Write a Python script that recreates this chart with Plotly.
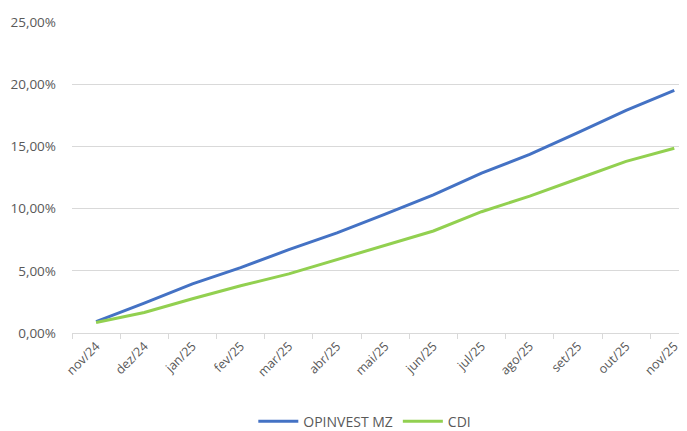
import plotly.graph_objects as go

months = ["nov/24", "dez/24", "jan/25", "fev/25", "mar/25", "abr/25", "mai/25",
          "jun/25", "jul/25", "ago/25", "set/25", "out/25", "nov/25"]
opinvest = [0.92, 2.4, 3.95, 5.25, 6.7, 8.05, 9.55, 11.1, 12.85, 14.35, 16.1, 17.9, 19.5]
cdi = [0.85, 1.65, 2.75, 3.8, 4.75, 5.9, 7.05, 8.2, 9.75, 11.0, 12.4, 13.8, 14.85]

fig = go.Figure()
fig.add_trace(go.Scatter(x=months, y=opinvest, mode="lines", name="OPINVEST MZ",
                         line=dict(color="#4472C4", width=3)))
fig.add_trace(go.Scatter(x=months, y=cdi, mode="lines", name="CDI",
                         line=dict(color="#92D050", width=3)))

font = "Open Sans, Liberation Sans, sans-serif"
fig.update_layout(
    width=687, height=431,
    margin=dict(l=64, r=0, t=14, b=106, autoexpand=False),
    plot_bgcolor="white", paper_bgcolor="white",
    separators=",.",
    font=dict(family=font, size=13, color="#595959"),
    showlegend=True,
    legend=dict(orientation="h", x=0.47, xanchor="center", y=-0.285, yanchor="middle",
                font=dict(size=14, color="#595959"), itemwidth=40, tracegroupgap=0),
    xaxis=dict(type="category", range=[-0.5, 12.43], tickangle=-45, automargin=False,
               ticks="outside", tickson="boundaries", ticklen=5, tickcolor="#d9d9d9",
               showline=True, linecolor="#d9d9d9", linewidth=1, showgrid=False,
               tickfont=dict(size=12.5, color="#595959")),
    yaxis=dict(range=[0, 25], dtick=5, tickformat=".2f", ticksuffix="%", automargin=False,
               showgrid=True, gridcolor="#d9d9d9", gridwidth=1, zeroline=False,
               showline=False, ticks="", ticklabelstandoff=15,
               tickfont=dict(size=13.5, color="#595959")),
)
fig.write_html("out.html")
